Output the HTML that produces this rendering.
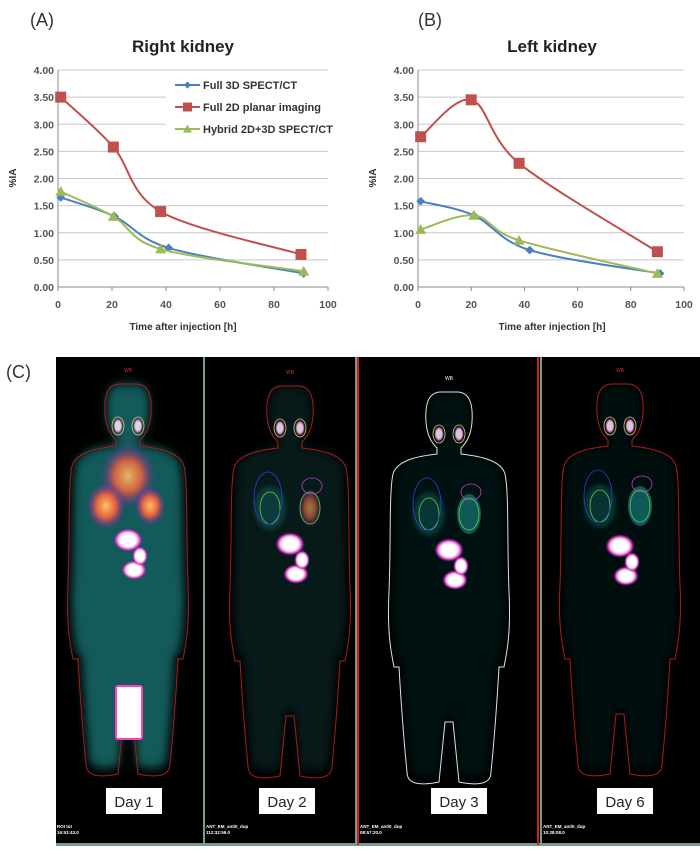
<!DOCTYPE html>
<html><head><meta charset="utf-8"><style>
body{margin:0;background:#fff;width:700px;height:854px;overflow:hidden;font-family:"Liberation Sans",sans-serif}
svg{position:absolute;left:0;top:0}
</style></head><body>
<svg id="fig" width="700" height="854">
<defs>
<filter id="blur2"><feGaussianBlur stdDeviation="2"/></filter>
<filter id="blur4"><feGaussianBlur stdDeviation="5"/></filter>
<radialGradient id="hot"><stop offset="0" stop-color="#fff"/><stop offset="0.55" stop-color="#fff"/><stop offset="0.75" stop-color="#ff5fd0"/><stop offset="1" stop-color="#5010a0" stop-opacity="0"/></radialGradient>
<radialGradient id="warm"><stop offset="0" stop-color="#ffc060"/><stop offset="0.5" stop-color="#e06040"/><stop offset="1" stop-color="#6020c0" stop-opacity="0"/></radialGradient>
</defs>
<g id="charts"></g>
<g id="panelC"></g>
</svg>
<script>
const xTicks=[0,20,40,60,80,100];
const yTicks=[0,0.5,1,1.5,2,2.5,3,3.5,4];
const yTickLabels=["0.00","0.50","1.00","1.50","2.00","2.50","3.00","3.50","4.00"];
const seriesNames=["Full 3D SPECT/CT","Full 2D planar imaging","Hybrid 2D+3D SPECT/CT"];
const rightBlueX=[1,21,41,91], rightBlueY=[1.65,1.30,0.72,0.25];
const rightRedX=[1,20.5,38,90], rightRedY=[3.50,2.58,1.39,0.60];
const rightGreenX=[1,20.5,38,91], rightGreenY=[1.76,1.30,0.70,0.29];
const leftBlueX=[1,21,42,91], leftBlueY=[1.58,1.32,0.68,0.25];
const leftRedX=[1,20,38,90], leftRedY=[2.77,3.45,2.28,0.65];
const leftGreenX=[1,21,38,90], leftGreenY=[1.06,1.32,0.86,0.25];

const NS="http://www.w3.org/2000/svg";
function mk(tag,attrs,parent){const e=document.createElementNS(NS,tag);for(const k in attrs)e.setAttribute(k,attrs[k]);parent.appendChild(e);return e;}
const colors=["#4a7fc1","#c0504d","#9bbb59"];

function smoothPath(pts){
  let d="M"+pts[0][0]+","+pts[0][1];
  for(let i=0;i<pts.length-1;i++){
    const p0=pts[i-1]||pts[i],p1=pts[i],p2=pts[i+1],p3=pts[i+2]||p2;
    const c1=[p1[0]+(p2[0]-p0[0])/6,p1[1]+(p2[1]-p0[1])/6];
    const c2=[p2[0]-(p3[0]-p1[0])/6,p2[1]-(p3[1]-p1[1])/6];
    d+=" C"+c1+" "+c2+" "+p2;
  }
  return d;
}

function chart(cfg){
  const g=mk("g",{},document.getElementById("charts"));
  
  
  const sx=v=>cfg.x0+(cfg.x1-cfg.x0)*v/100;
  const sy=v=>cfg.y0-(cfg.y0-cfg.y1)*v/4;
  yTicks.forEach((t,i)=>{
    if(i>0){const l=mk("line",{x1:cfg.x0,x2:cfg.x1,y1:sy(t),y2:sy(t),stroke:"#c8c8c8","stroke-width":1},g);
    }
    const tx=mk("text",{x:cfg.x0-4,y:sy(t)+4,"text-anchor":"end","font-size":"10.5","font-weight":"bold",fill:"#555"},g);
    tx.textContent=yTickLabels[i];
    
  });
  xTicks.forEach(t=>{
    const tx=mk("text",{x:sx(t),y:cfg.y0+21,"text-anchor":"middle","font-size":"10.5","font-weight":"bold",fill:"#555"},g);
    tx.textContent=t;
    
    const tk=mk("line",{x1:sx(t),x2:sx(t),y1:cfg.y0,y2:cfg.y0+4,stroke:"#888"},g);
    
  });
  const ax=mk("path",{d:`M${cfg.x0},${cfg.y1} V${cfg.y0} H${cfg.x1}`,stroke:"#888",fill:"none"},g);
  
  if(cfg.legend){
    const lg=mk("g",{},g);
    
    mk("rect",{x:166,y:74,width:cfg.x1-166,height:66,fill:"#fff"},lg);
    seriesNames.forEach((n,i)=>{
      const y=85+i*22;
      mk("line",{x1:175,x2:200,y1:y,y2:y,stroke:colors[i],"stroke-width":2},lg);
      marker(lg,i,187.5,y,0.9);
      const t=mk("text",{x:203,y:y+4,"font-size":"11","font-weight":"bold",fill:"#333"},lg);
      t.textContent=n;
      
    });
  }
  cfg.series.forEach((s,i)=>{
    const pts=s[0].map((x,j)=>[sx(x),sy(s[1][j])]);
    const p=mk("path",{d:smoothPath(pts),stroke:colors[i],"stroke-width":2,fill:"none"},g);
    
    pts.forEach(q=>{const m=marker(g,i,q[0],q[1],1.1);});
  });
  const t=mk("text",{x:cfg.tx,y:52,"text-anchor":"middle","font-size":"17","font-weight":"bold",fill:"#222"},g);
  t.textContent=cfg.title;
  const pl=mk("text",{x:cfg.px,y:26,"font-size":"18",fill:"#333"},g);
  pl.textContent=cfg.panel;
  const yl=mk("text",{x:0,y:0,"text-anchor":"middle","font-size":"10","font-weight":"bold",fill:"#333",transform:`translate(${cfg.x0-42},178) rotate(-90)`},g);
  yl.textContent="%IA";
  const xl=mk("text",{x:cfg.tx,y:330,"text-anchor":"middle","font-size":"10","font-weight":"bold",fill:"#333"},g);
  xl.textContent="Time after injection [h]";
}
function marker(g,i,x,y,s){
  if(i===0)return mk("path",{d:`M${x},${y-4*s} L${x+4*s},${y} L${x},${y+4*s} L${x-4*s},${y} Z`,fill:colors[0]},g);
  if(i===1)return mk("rect",{x:x-5*s,y:y-5*s,width:10*s,height:10*s,fill:colors[1]},g);
  return mk("path",{d:`M${x},${y-5*s} L${x+5*s},${y+4*s} L${x-5*s},${y+4*s} Z`,fill:colors[2]},g);
}
chart({name:"right-kidney-chart",x0:58,x1:328,y0:287,y1:70,tx:183,px:30,panel:"(A)",title:"Right kidney",legend:true,
  series:[[rightBlueX,rightBlueY],[rightRedX,rightRedY],[rightGreenX,rightGreenY]]});
chart({name:"left-kidney-chart",x0:418,x1:684,y0:287,y1:70,tx:552,px:418,panel:"(B)",title:"Left kidney",legend:false,
  series:[[leftBlueX,leftBlueY],[leftRedX,leftRedY],[leftGreenX,leftGreenY]]});

// Panel C
const P=document.getElementById("panelC");
const lc=mk("text",{x:6,y:378,"font-size":"18",fill:"#333"},P);lc.textContent="(C)";

mk("rect",{x:56,y:357,width:644,height:489,fill:"#000"},P);
mk("rect",{x:56,y:843,width:644,height:3,fill:"#7a9a90"},P);
[[203,"#7a9a90"],[355,"#7a9a90"],[357,"#d02020"],[537,"#d02020"],[540,"#7a9a90"]].forEach(d=>{
  const l=mk("rect",{x:d[0],y:357,width:2,height:488,fill:d[1]},P);
  
});
const bodyD="M -8,0 C -22,0 -24,15 -23,30 C -22,45 -16,52 -12,56 L -12,62 C -30,64 -52,68 -56,82 C -60,100 -58,150 -60,200 C -62,240 -58,260 -55,275 L -50,275 C -48,310 -45,350 -42,380 C -42,392 -30,394 -10,390 L -4,330 L 4,330 L 10,390 C 30,394 42,392 42,380 C 45,350 48,310 50,275 L 55,275 C 58,260 62,240 60,200 C 58,150 60,100 56,82 C 52,68 30,64 12,62 L 12,56 C 16,52 22,45 23,30 C 24,15 22,0 8,0 Z";
const panels=[
 {cx:128,top:384,out:"#b01818",glow:0.65,day:"Day 1",bx:106,lab1:"ROI tot",lab2:"16:53:43.0"},
 {cx:290,top:386,out:"#b01818",glow:0.18,day:"Day 2",bx:259,lab1:"ANT_EM_anti0_dup",lab2:"112:32:59.0"},
 {cx:449,top:392,out:"#e0e0e0",glow:0.12,day:"Day 3",bx:431,lab1:"ANT_EM_anti0_dup",lab2:"08:57:20.0"},
 {cx:620,top:384,out:"#b01818",glow:0.1,day:"Day 6",bx:597,lab1:"ANT_EM_anti0_dup",lab2:"10:28:08.0"}];
panels.forEach((p,i)=>{
  const g=mk("g",{transform:`translate(${p.cx},${p.top})`},P);
  
  mk("path",{d:bodyD,fill:"#1d8a8a","fill-opacity":p.glow,filter:"url(#blur4)",transform:"scale(0.93,0.98)"},g);
  mk("path",{d:bodyD,fill:"none",stroke:p.out,"stroke-width":1},g);
  if(i===0){
    mk("ellipse",{cx:0,cy:92,rx:28,ry:32,fill:"url(#warm)",opacity:0.9},g);
    mk("ellipse",{cx:-22,cy:122,rx:20,ry:24,fill:"url(#warm)"},g);
    mk("ellipse",{cx:22,cy:122,rx:16,ry:20,fill:"url(#warm)"},g);
    mk("rect",{x:-12,y:302,width:26,height:53,fill:"#fff",stroke:"#ff40c0","stroke-width":2,rx:2},g);
  } else {
    mk("ellipse",{cx:-20,cy:122,rx:16,ry:22,fill:"#1d8a8a",opacity:0.3,filter:"url(#blur2)"},g);
    mk("ellipse",{cx:20,cy:122,rx:12,ry:20,fill:i===1?"url(#warm)":"#1d8a8a",opacity:0.6},g);
    mk("ellipse",{cx:-20,cy:122,rx:10,ry:16,fill:"none",stroke:"#60d040","stroke-width":0.8},g);
    mk("ellipse",{cx:20,cy:122,rx:10,ry:16,fill:"none",stroke:"#60d040","stroke-width":0.8},g);
    mk("ellipse",{cx:-22,cy:112,rx:14,ry:26,fill:"none",stroke:"#3040d0","stroke-width":0.8},g);
    mk("ellipse",{cx:22,cy:100,rx:10,ry:8,fill:"none",stroke:"#c040c0","stroke-width":0.8},g);
  }
  const by=i===0?156:(i===3?162:158);
  mk("ellipse",{cx:0,cy:by,rx:15,ry:12,fill:"url(#hot)"},g);
  mk("ellipse",{cx:6,cy:by+30,rx:13,ry:10,fill:"url(#hot)"},g);
  mk("ellipse",{cx:12,cy:by+16,rx:8,ry:10,fill:"url(#hot)"},g);
  mk("ellipse",{cx:-10,cy:42,rx:5,ry:8,fill:"url(#hot)",opacity:0.8},g);
  mk("ellipse",{cx:10,cy:42,rx:5,ry:8,fill:"url(#hot)",opacity:0.8},g);
  mk("ellipse",{cx:-10,cy:42,rx:6,ry:9,fill:"none",stroke:"#d0d060","stroke-width":0.8},g);
  mk("ellipse",{cx:10,cy:42,rx:6,ry:9,fill:"none",stroke:"#d0d060","stroke-width":0.8},g);
  const wb=mk("text",{x:0,y:-12,"text-anchor":"middle","font-size":"5",fill:i===2?"#fff":"#d03030"},g);wb.textContent="WB";
  const bx=mk("rect",{x:p.bx,y:788,width:56,height:26,fill:"#fff"},P);
  
  const t=mk("text",{x:p.bx+28,y:807,"text-anchor":"middle","font-size":"15",fill:"#222"},P);
  t.textContent=p.day;
  const x0=[56,205,359,542][i];
  const a=mk("text",{x:x0+1,y:828,"font-size":"4.5",fill:"#fff","font-weight":"bold"},P);a.textContent=p.lab1;
  
  const b=mk("text",{x:x0+1,y:834,"font-size":"4.5",fill:"#fff","font-weight":"bold"},P);b.textContent=p.lab2;
  
});
</script>
</body></html>
